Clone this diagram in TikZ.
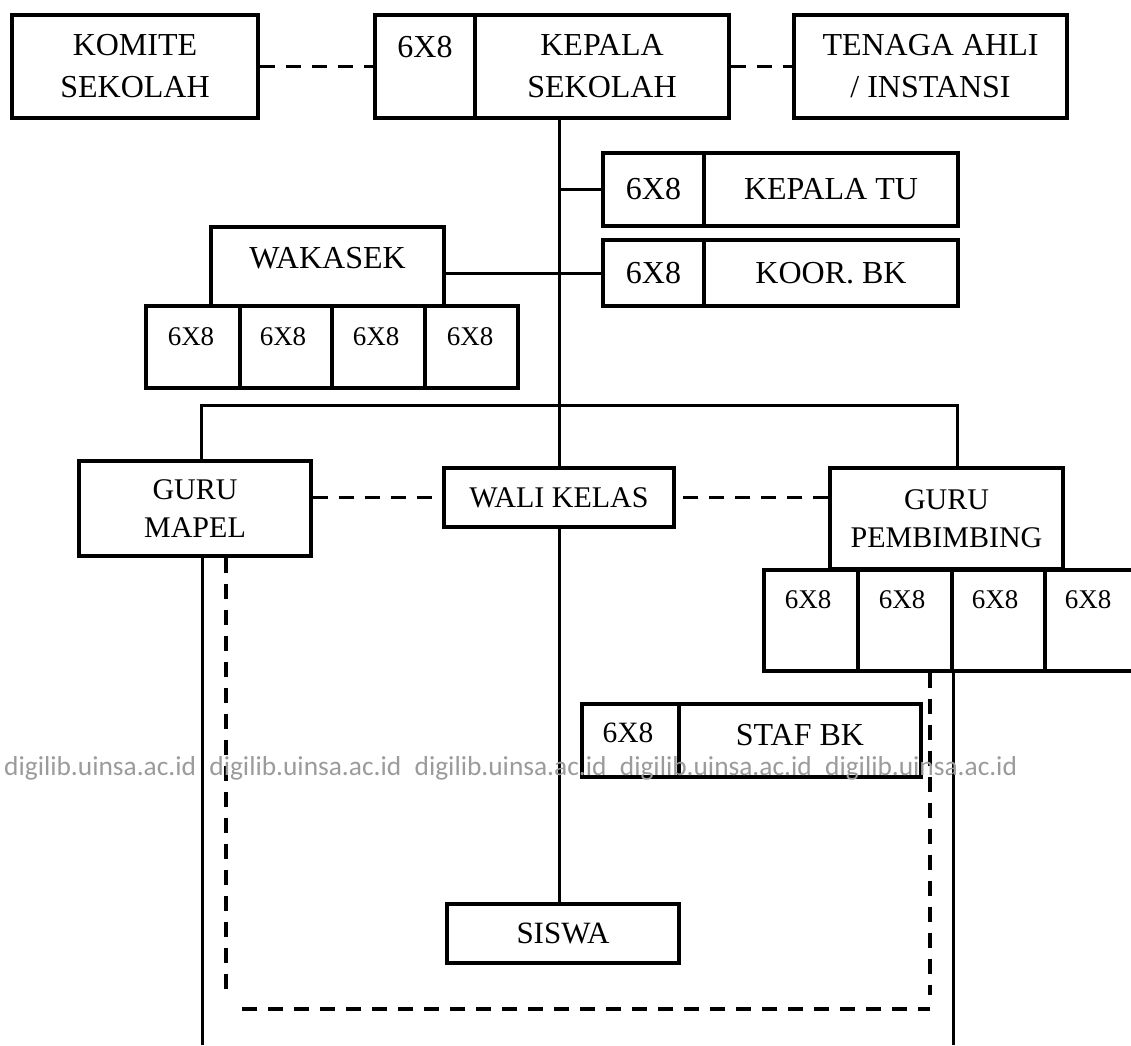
\documentclass[tikz,border=0pt]{standalone}
\usepackage{fontspec}
\setmainfont{Liberation Serif}
\newfontfamily\wmfont{Carlito}
\definecolor{wmgray}{RGB}{155,155,155}
\newcommand{\wmtext}{digilib.uinsa.ac.id}
\begin{document}
\begin{tikzpicture}[x=1pt,y=-1pt,
  box/.style={draw, line width=3.2pt, inner sep=0pt, align=center, font=\fontsize{32}{42}\selectfont},
  lowbox/.style={box, font=\fontsize{30}{38}\selectfont},
  cellbox/.style={draw, line width=3.2pt, inner sep=0pt},
  conn/.style={line width=3pt},
  dconn/.style={line width=3.2pt, dash pattern=on 15pt off 11pt},
  txt/.style={inner sep=0pt, font=\fontsize{32}{42}\selectfont},
  smalltxt/.style={inner sep=0pt, font=\fontsize{27}{30}\selectfont}]
\useasboundingbox (0,0) rectangle (1131,1045);
\clip (0,0) rectangle (1131,1045);

% top row
\node[box, minimum width=246pt, minimum height=103pt] (komite) at (135,66.5) {KOMITE\\SEKOLAH};
\node[cellbox, minimum width=100pt, minimum height=103pt] (ks6) at (425,66.5) {};
\node[txt] (ks6t) at (425,47) {6X8};
\node[box, minimum width=254pt, minimum height=103pt] (ks) at (602,66.5) {KEPALA\\SEKOLAH};
\node[box, minimum width=273pt, minimum height=103pt] (tenaga) at (930.5,66.5) {TENAGA AHLI\\/ INSTANSI};
\draw[dconn] (komite.east) -- (ks6.west);
\draw[dconn] (ks.east) -- (tenaga.west);

% kepala TU / koor BK
\node[box, minimum width=101pt, minimum height=73pt] (ktu6) at (653.5,189.5) {6X8};
\node[box, minimum width=254pt, minimum height=73pt] (ktu) at (831,189.5) {KEPALA TU};
\node[box, minimum width=101pt, minimum height=66pt] (koor6) at (653.5,273) {6X8};
\node[box, minimum width=254pt, minimum height=66pt] (koor) at (831,273) {KOOR. BK};

% wakasek
\node[cellbox, minimum width=233pt, minimum height=79pt] (wak) at (327.5,266.5) {};
\node[txt] (wakt) at (327.5,258) {WAKASEK};
\node[cellbox, minimum width=94pt, minimum height=82pt] (w1) at (193,347) {};
\node[cellbox, minimum width=92pt, minimum height=82pt] (w2) at (286,347) {};
\node[cellbox, minimum width=93pt, minimum height=82pt] (w3) at (378.5,347) {};
\node[cellbox, minimum width=93pt, minimum height=82pt] (w4) at (471.5,347) {};
\node[smalltxt] (w1t) at (191,337) {6X8};
\node[smalltxt] (w2t) at (283,337) {6X8};
\node[smalltxt] (w3t) at (376,337) {6X8};
\node[smalltxt] (w4t) at (470,337) {6X8};

% middle row
\node[lowbox, minimum width=232pt, minimum height=95pt] (gm) at (195,508.5) {GURU\\MAPEL};
\node[lowbox, minimum width=230pt, minimum height=59pt] (wali) at (559,497.5) {WALI KELAS};
\node[lowbox, minimum width=233pt, minimum height=101pt] (gp) at (946.5,518.5) {GURU\\PEMBIMBING};
\node[cellbox, minimum width=94pt, minimum height=101pt] (r1) at (811,620.5) {};
\node[cellbox, minimum width=94pt, minimum height=101pt] (r2) at (905,620.5) {};
\node[cellbox, minimum width=93pt, minimum height=101pt] (r3) at (998.5,620.5) {};
\node[cellbox, minimum width=95pt, minimum height=101pt] (r4) at (1092.5,620.5) {};
\node[smalltxt] (r1t) at (808,600) {6X8};
\node[smalltxt] (r2t) at (902,600) {6X8};
\node[smalltxt] (r3t) at (995,600) {6X8};
\node[smalltxt] (r4t) at (1088,600) {6X8};

% staf BK and siswa
\node[cellbox, minimum width=97pt, minimum height=73pt] (staf6) at (630.5,740.5) {};
\node[inner sep=0pt, font=\fontsize{29.5}{32}\selectfont] (staf6t) at (628,733) {6X8};
\node[cellbox, minimum width=242pt, minimum height=73pt] (staf) at (800,740.5) {};
\node[txt] (staft) at (800,735) {STAF BK};
\node[box, minimum width=232pt, minimum height=59pt, font=\fontsize{31}{36}\selectfont] (siswa) at (563,933.5) {SISWA};

% spine and branches
\coordinate (spx) at (559,0);
\draw[conn] (ks.south -| spx) -- (wali.north);
\draw[conn] (ktu6.west) -- (ktu6.west -| spx);
\draw[conn] (koor6.west) -- (koor6.west -| wak.east);
\draw[conn] (wali.south) -- (siswa.north -| wali.south);

% bus
\coordinate (busL) at (201,405);
\coordinate (busR) at (957,405);
\draw[conn] (gm.north -| busL) -- (busL) -- (busR) -- (gp.north -| busR);

% dashed links middle
\draw[dconn] (wali.west -| gm.east) -- (wali.west);
\draw[dconn] (wali.east -| gp.west) -- (wali.east);

% lower lines
\coordinate (lsb) at (202,1045);
\draw[conn] (gm.south -| lsb) -- (lsb);
\coordinate (ldb) at (226,993);
\draw[dconn] (gm.south -| ldb) -- (ldb);
\coordinate (bdl) at (242,1009);
\coordinate (bdr) at (930,1009);
\draw[dconn] (bdl) -- (bdr);
\coordinate (rdb) at (930,995);
\draw[dconn] (r2.south -| rdb) -- (rdb);
\coordinate (rsb) at (952,1045);
\draw[conn] (r2.south east) -- (r2.south east |- rsb);

% watermark
\node[anchor=base west, inner sep=0pt, text=wmgray, font=\wmfont\fontsize{27.4}{30}\selectfont] (wm) at (4,775)
  {\wmtext\hspace{13.5pt}\wmtext\hspace{13.5pt}\wmtext\hspace{13.5pt}\wmtext\hspace{13.5pt}\wmtext};
\end{tikzpicture}
\end{document}
